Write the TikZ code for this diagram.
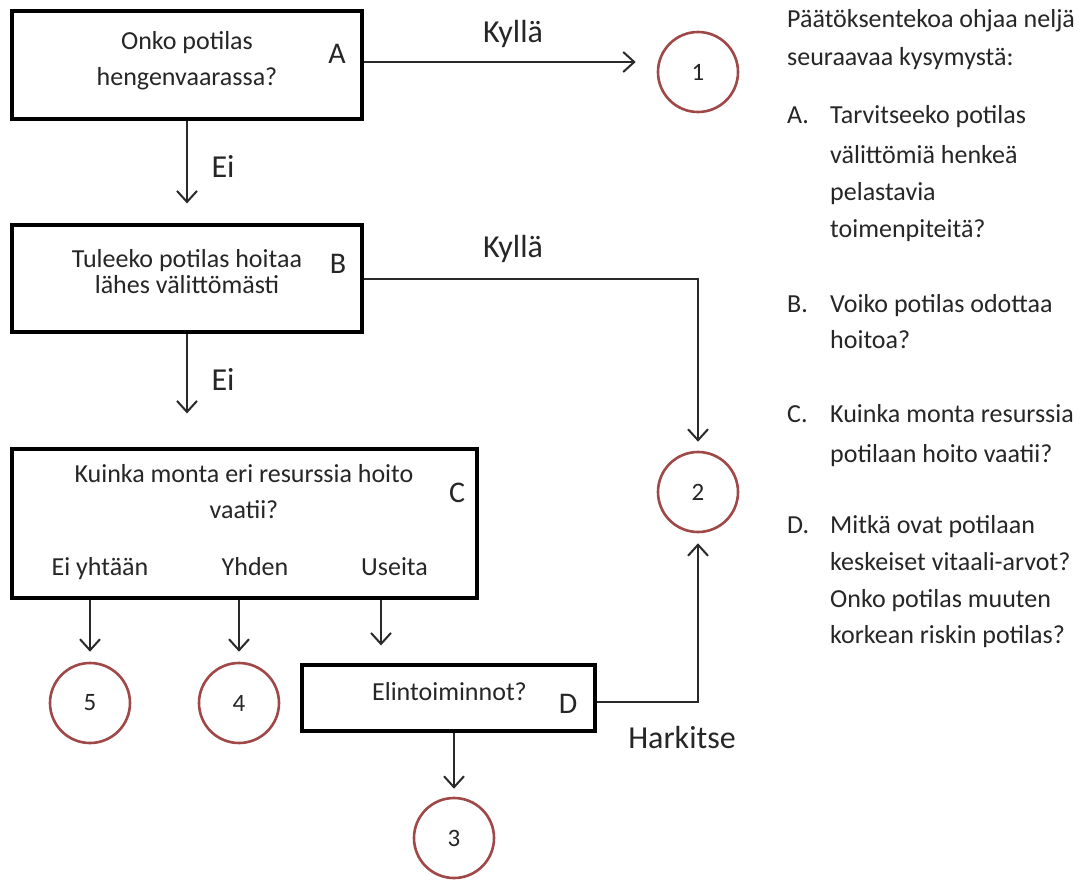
\documentclass[tikz,border=0pt]{standalone}
\usepackage{fontspec}
\setmainfont{Carlito}
\usetikzlibrary{arrows.meta}
\definecolor{txt}{HTML}{262626}
\definecolor{circ}{HTML}{A04848}
\definecolor{arrc}{HTML}{2A2A2A}
\tikzset{
  box/.style={draw=black, line width=3.2pt, inner sep=0pt},
  numc/.style={circle, draw=circ, line width=2.6pt, minimum size=80pt, inner sep=0pt, text=txt, font=\fontsize{25}{28}\selectfont},
  arr/.style={draw=arrc, line width=2pt, -{Straight Barb[length=11pt,width=20pt,line width=2pt]}},
  btxt/.style={text=txt, font=\fontsize{26}{30}\selectfont, inner sep=0pt, anchor=base},
  ltr/.style={text=txt, font=\fontsize{30}{34}\selectfont, inner sep=0pt, anchor=base},
  lbl/.style={text=txt, font=\fontsize{32}{36}\selectfont, inner sep=0pt, anchor=base},
  side/.style={text=txt, font=\fontsize{26}{30}\selectfont, inner sep=0pt, anchor=base west}
}
\begin{document}
\begin{tikzpicture}[x=1pt,y=-1pt]
\useasboundingbox[fill=white] (0,0) rectangle (1089,881);

\node[box, minimum width=350pt, minimum height=108pt] (A) at (187,65) {};
\node[box, minimum width=350pt, minimum height=107pt] (B) at (187,278.5) {};
\node[box, minimum width=465pt, minimum height=149pt] (C) at (244.5,523.5) {};
\node[box, minimum width=293pt, minimum height=66pt] (D) at (448.5,698) {};

\node[btxt] (ta1) at (187,49) {Onko potilas};
\node[btxt] (ta2) at (187,85) {hengenvaarassa?};
\node[ltr] (la) at (337,63) {A};
\node[btxt] (tb1) at (187,267) {Tuleeko potilas hoitaa};
\node[btxt] (tb2) at (187,293) {lähes välittömästi};
\node[ltr] (lb) at (338,273) {B};
\node[btxt] (tc1) at (244,482) {Kuinka monta eri resurssia hoito};
\node[btxt] (tc2) at (244,518) {vaatii?};
\node[ltr] (lc) at (457,502) {C};
\node[btxt] (o5) at (100,575) {Ei yhtään};
\node[btxt] (o4) at (255,575) {Yhden};
\node[btxt] (o3) at (394.5,575) {Useita};
\node[btxt] (td) at (449.5,700) {Elintoiminnot?};
\node[ltr] (ld) at (568,713) {D};

\node[numc] (c1) at (698,72) {1};
\node[numc] (c2) at (698,492) {2};
\node[numc] (c3) at (454,838) {3};
\node[numc] (c4) at (239,703) {4};
\node[numc] (c5) at (90,703) {5};

\node[lbl] (k1) at (513,42) {Kyllä};
\node[lbl] (k2) at (513,257) {Kyllä};
\node[lbl] (e1) at (223,177) {Ei};
\node[lbl] (e2) at (223,390) {Ei};
\node[lbl] (hk) at (682,748) {Harkitse};

\coordinate (cu) at (381,0);
\draw[arr] ([yshift=3pt]A.east) -- ([xshift=-21pt,yshift=10pt]c1.west);
\draw[arr] (A.south) -- ([yshift=20pt]B.north);
\draw[arr] (B.east) -| ([yshift=9pt]c2.north);
\draw[arr] (B.south) -- ([yshift=34pt]C.north -| B.south);
\draw[arr] (C.south -| c5) -- ([yshift=10pt]c5.north);
\draw[arr] (C.south -| c4) -- ([yshift=10pt]c4.north);
\draw[arr] (C.south -| cu) -- ([yshift=18pt]D.north -| cu);
\draw[arr] (D.south -| c3) -- ([yshift=8pt]c3.north);
\draw[arr] ([yshift=-4pt]D.east) -| ([yshift=-10pt]c2.south);

\node[side] (s1) at (787,27) {Päätöksentekoa ohjaa neljä};
\node[side] (s2) at (787,65) {seuraavaa kysymystä:};
\node[side] (sa) at (787,123) {A.};
\node[side] (sa1) at (830,123) {Tarvitseeko potilas};
\node[side] (sa2) at (830,163) {välittömiä henkeä};
\node[side] (sa3) at (830,200) {pelastavia};
\node[side] (sa4) at (830,237) {toimenpiteitä?};
\node[side] (sb) at (787,312) {B.};
\node[side] (sb1) at (830,312) {Voiko potilas odottaa};
\node[side] (sb2) at (830,348) {hoitoa?};
\node[side] (sc) at (787,422) {C.};
\node[side] (sc1) at (830,422) {Kuinka monta resurssia};
\node[side] (sc2) at (830,462) {potilaan hoito vaatii?};
\node[side] (sd) at (787,533) {D.};
\node[side] (sd1) at (830,533) {Mitkä ovat potilaan};
\node[side] (sd2) at (830,570) {keskeiset vitaali-arvot?};
\node[side] (sd3) at (830,607) {Onko potilas muuten};
\node[side] (sd4) at (830,643) {korkean riskin potilas?};
\end{tikzpicture}
\end{document}
